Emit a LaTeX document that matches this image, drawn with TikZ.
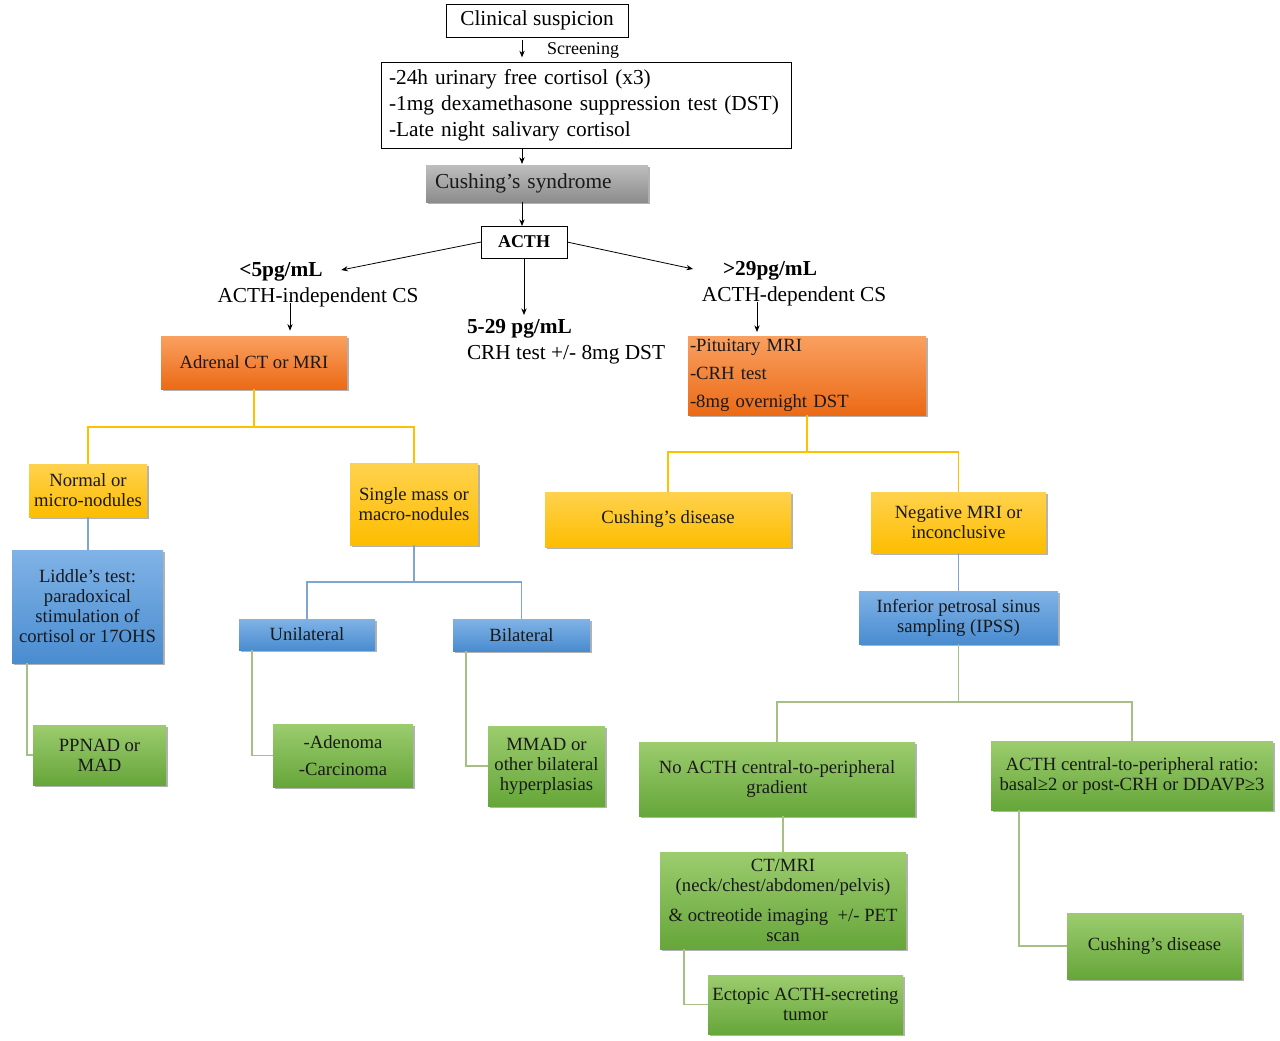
\documentclass[tikz,border=0pt]{standalone}
\usepackage{fontspec}
\setmainfont{Liberation Serif}
\usetikzlibrary{arrows.meta,shadows,calc}
\definecolor{orT}{HTML}{F9A060}\definecolor{orB}{HTML}{EC6A16}
\definecolor{yeT}{HTML}{FFD24E}\definecolor{yeB}{HTML}{FDBD00}
\definecolor{blT}{HTML}{80B3E6}\definecolor{blB}{HTML}{4A8CD0}
\definecolor{grT}{HTML}{9CCC6E}\definecolor{grB}{HTML}{66A63A}
\definecolor{gyT}{HTML}{BEBEBE}\definecolor{gyB}{HTML}{8C8C8C}
\definecolor{lnY}{HTML}{FFC000}\definecolor{lnB}{HTML}{7FA6D0}\definecolor{lnG}{HTML}{A6BF86}
\newcommand\ftop{\fontsize{16}{19.5}\selectfont}
\newcommand\fbx{\fontsize{14}{15}\selectfont}
\newcommand\fsm{\fontsize{13.5}{15}\selectfont}
\begin{document}
\begin{tikzpicture}[x=0.75pt,y=-0.75pt,
  every node/.style={inner sep=0pt,outer sep=0pt},
  B/.style n args={4}{at={(#1,#2)},minimum width=#3*0.75pt,minimum height=#4*0.75pt},
  fb/.style={align=center,font=\fbx,text=black!90,
    drop shadow={shadow xshift=1.2pt,shadow yshift=-1.2pt,opacity=0.3,fill=black}},
  wbox/.style={draw=black,line width=0.6pt,fill=white,font=\ftop},
  obox/.style={fb,top color=orT,bottom color=orB},
  ybox/.style={fb,top color=yeT,bottom color=yeB},
  bbox/.style={fb,top color=blT,bottom color=blB},
  gbox/.style={fb,top color=grT,bottom color=grB},
  kbox/.style={fb,top color=gyT,bottom color=gyB},
  arr/.style={draw=black,line width=0.6pt,-{Stealth[length=5pt,width=4pt]}},
  cY/.style={draw=lnY,line width=0.8pt},
  cB/.style={draw=lnB,line width=0.8pt},
  cG/.style={draw=lnG,line width=0.8pt}]
\useasboundingbox (0,0) rectangle (1280,1040);
\fill[white] (0,0) rectangle (1280,1040);
\coordinate (spine) at (522,0);
\coordinate (aL) at (290,0);
\coordinate (aR) at (757,0);
% top part
\node[wbox,B={537}{20.5}{182}{33}] (clin) {Clinical suspicion};
\node[font=\fsm] (scrl) at (583,50) {Screening};
\node[wbox,B={586}{105}{410}{86},align=left,text width=295.5pt] (scr)
  {-24h urinary free cortisol (x3)\\-1mg dexamethasone suppression test (DST)\\-Late night salivary cortisol};
\node[kbox,B={537}{183.5}{222}{37},font=\ftop,align=left,text width=153pt] (syn) {Cushing’s syndrome};
\node[wbox,B={524}{242}{86}{32},font=\bfseries\fsm] (acth) {ACTH};
\node[font=\bfseries\ftop] (lo) at (281,272) {<5pg/mL};
\node[font=\ftop] (ind) at (318,297) {ACTH-independent CS};
\node[font=\bfseries\ftop] (hi) at (770,271) {>29pg/mL};
\node[font=\ftop] (dep) at (794,296) {ACTH-dependent CS};
\node[anchor=north west,align=left,font=\fontsize{16}{19.5}\selectfont] (mid) at (467,319)
  {\textbf{5-29 pg/mL}\\CRH test +/- 8mg DST};
% boxes
\node[obox,B={254}{362.5}{186}{53}] (adrenal) {Adrenal CT or MRI};
\node[obox,B={807}{375.5}{238}{79},align=left,text width=175.5pt,font=\fontsize{14}{21}\selectfont] (pit)
  {-Pituitary MRI\\-CRH test\\-8mg overnight DST};
\node[ybox,B={88}{490.5}{118}{53}] (normal) {Normal or\\micro-nodules};
\node[ybox,B={414}{504}{128}{82}] (single) {Single mass or\\macro-nodules};
\node[bbox,B={87.5}{606.5}{151}{113}] (liddle) {Liddle’s test:\\paradoxical\\stimulation of\\cortisol or 17OHS};
\node[gbox,B={99.5}{755}{133}{60}] (ppnad) {PPNAD or\\MAD};
\node[bbox,B={307}{634.5}{136}{31}] (unil) {Unilateral};
\node[bbox,B={521.5}{635}{137}{32}] (bil) {Bilateral};
\node[gbox,B={343}{755.5}{140}{63}] (aden) {-Adenoma\\[5pt]-Carcinoma};
\node[gbox,B={546.5}{766}{117}{80}] (mmad) {MMAD or\\other bilateral\\hyperplasias};
\node[ybox,B={668}{519.5}{246}{55}] (cd1) {Cushing’s disease};
\node[ybox,B={958.5}{522.5}{175}{61}] (neg) {Negative MRI or\\inconclusive};
\node[bbox,B={958.5}{617.5}{199}{53}] (ipss) {Inferior petrosal sinus\\sampling (IPSS)};
\node[gbox,B={777}{779}{276}{74}] (noacth) {No ACTH central-to-peripheral\\gradient};
\node[gbox,B={1132}{775.5}{282}{69}] (ratio) {ACTH central-to-peripheral ratio:\\basal≥2 or post-CRH or DDAVP≥3};
\node[gbox,B={783}{900.5}{246}{97}] (ct) {CT/MRI\\(neck/chest/abdomen/pelvis)\\[7pt]\& octreotide imaging \ +/- PET\\scan};
\node[gbox,B={805.5}{1004.5}{195}{59}] (ect) {Ectopic ACTH-secreting\\tumor};
\node[gbox,B={1154.5}{946}{175}{66}] (cd2) {Cushing’s disease};
% arrows
\draw[arr,shorten <=2pt,shorten >=3.5pt] (spine |- clin.south) -- (spine |- scr.north);
\draw[arr,shorten >=0.8pt] (spine |- scr.south) -- (spine |- syn.north);
\draw[arr] (spine |- syn.south) -- (spine |- acth.north);
\draw[arr] (acth.west) -- ([xshift=14pt,yshift=1.5pt]lo.east);
\draw[arr] (acth.east) -- ([xshift=-22.5pt,yshift=1.5pt]hi.west);
\draw[arr,shorten >=3pt] (acth.south) -- (acth.south |- mid.north);
\draw[arr,shorten <=-3pt,shorten >=4pt] (aL |- ind.south) -- (aL |- adrenal.north);
\draw[arr,shorten <=-3pt,shorten >=3pt] (aR |- dep.south) -- (aR |- pit.north);
% connectors
\draw[cY] (adrenal.south) -- ++(0,38) coordinate (jA);
\draw[cY] (normal.north) |- (jA) -| (single.north);
\draw[cY] (pit.south) -- ++(0,37) coordinate (jP);
\draw[cY] (cd1.north) |- (jP) -| (neg.north);
\draw[cB] (normal.south) -- (normal.south |- liddle.north);
\draw[cB] (single.south) -- ++(0,37) coordinate (jS);
\draw[cB] (unil.north) |- (jS) -| (bil.north);
\draw[cB] (neg.south) -- (neg.south |- ipss.north);
\draw[cG] (ipss.south) -- ++(0,58) coordinate (jI);
\draw[cG] (noacth.north) |- (jI) -| (ratio.north);
\draw[cG] (ct.north |- noacth.south) -- (ct.north);
\draw[cG] ([xshift=11.25pt]liddle.south west) |- (ppnad.west);
\draw[cG] ([xshift=9.75pt]unil.south west) |- (aden.west);
\draw[cG] ([xshift=9.75pt]bil.south west) |- (mmad.west);
\draw[cG] ([xshift=18pt]ct.south west) |- (ect.west);
\draw[cG] ([xshift=21pt]ratio.south west) |- (cd2.west);
\end{tikzpicture}
\end{document}
